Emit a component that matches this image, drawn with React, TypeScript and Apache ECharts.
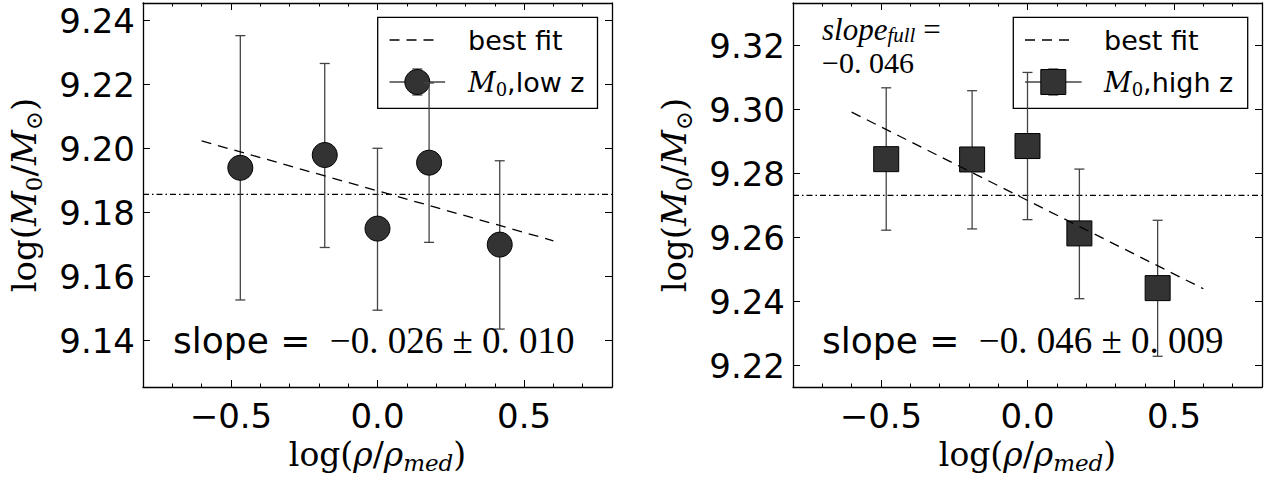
import React, { useEffect, useRef } from "react";
import * as echarts from "echarts";

// ---- data ----
const lowZX = [-0.468, -0.18, 0.0, 0.176, 0.417];
const lowZY = [9.194, 9.198, 9.175, 9.1956, 9.170];
const lowZErrLow = [9.1527, 9.1691, 9.1495, 9.1707, 9.1436];
const lowZErrHigh = [9.2353, 9.2266, 9.2001, 9.2205, 9.1962];
const lowFitX = [-0.6, 0.6];
const lowFitY = [9.2024, 9.1712];
const lowRef = 9.1857;
const lowYRange = [9.1255, 9.2455];
const lowYTicks = [9.14, 9.16, 9.18, 9.2, 9.22, 9.24];

const highZX = [-0.482, -0.189, 0.0, 0.177, 0.444];
const highZY = [9.2845, 9.2844, 9.2886, 9.2613, 9.2442];
const highZErrLow = [9.2623, 9.2627, 9.2656, 9.2409, 9.2229];
const highZErrHigh = [9.3068, 9.3059, 9.3116, 9.2814, 9.2654];
const highFitX = [-0.6, 0.6];
const highFitY = [9.2992, 9.244];
const highRef = 9.2732;
const highYRange = [9.2133, 9.3333];
const highYTicks = [9.22, 9.24, 9.26, 9.28, 9.3, 9.32];

const xRange = [-0.8, 0.8];
const xMajorTicks = [-0.5, 0.0, 0.5];

const lowSlopeText = "−0. 026 ± 0. 010";
const highSlopeText = "−0. 046 ± 0. 009";
const highSlopeFull = "−0. 046";

const SANS = "DejaVu Sans";
const SERIF = "DejaVu Serif";

const fmtX = (v: number) => {
  if (Math.abs(v) < 1e-9) return "0.0";
  return v < 0 ? "−" + Math.abs(v).toFixed(1) : v.toFixed(1);
};

function xAxesFor(gridIndex: number) {
  const common = {
    type: "value",
    gridIndex,
    min: xRange[0],
    max: xRange[1],
    splitLine: { show: false },
  };
  const major = (position: string, withLabel: boolean) => ({
    ...common,
    position,
    axisLine: { show: true, onZero: false, lineStyle: { color: "#000", width: 1.3 } },
    axisTick: { show: true, inside: true, length: 7, customValues: xMajorTicks, lineStyle: { color: "#000", width: 1 } },
    axisLabel: withLabel
      ? { show: true, customValues: xMajorTicks, formatter: fmtX, fontSize: 34, fontFamily: SANS, color: "#000", margin: 12 }
      : { show: false },
    ...(withLabel
      ? {
          name: "{a|log(}{i|ρ}{a|/}{i|ρ}{s|med}{a|)}",
          nameLocation: "middle",
          nameGap: 44,
          nameTextStyle: {
            rich: {
              a: { fontFamily: SERIF, fontSize: 33, color: "#000", lineHeight: 40 },
              i: { fontFamily: SERIF, fontStyle: "italic", fontSize: 33, color: "#000", lineHeight: 40 },
              s: { fontFamily: SERIF, fontStyle: "italic", fontSize: 23, color: "#000", lineHeight: 16, verticalAlign: "bottom" },
            },
          },
        }
      : {}),
  });
  const minor = (position: string) => ({
    ...common,
    position,
    interval: 0.1,
    axisLine: { show: false, onZero: false },
    axisTick: { show: true, inside: true, length: 3.5, lineStyle: { color: "#000", width: 1 } },
    axisLabel: { show: false },
  });
  return [major("bottom", true), minor("bottom"), major("top", false), minor("top")];
}

function yAxesFor(gridIndex: number, range: number[], ticks: number[]) {
  const common = {
    type: "value",
    gridIndex,
    min: range[0],
    max: range[1],
    splitLine: { show: false },
    axisLine: { show: true, onZero: false, lineStyle: { color: "#000", width: 1.3 } },
    axisTick: { show: true, inside: true, length: 7, customValues: ticks, lineStyle: { color: "#000", width: 1 } },
  };
  return [
    {
      ...common,
      position: "left",
      axisLabel: {
        show: true,
        customValues: ticks,
        formatter: (v: number) => v.toFixed(2),
        fontSize: 34,
        fontFamily: SANS,
        color: "#000",
        margin: 8,
      },
      name: "{a|log(}{i|M}{s|0}{a|/}{i|M}{s|⊙}{a|)}",
      nameLocation: "middle",
      nameGap: 98,
      nameTextStyle: {
        rich: {
          a: { fontFamily: SERIF, fontSize: 34, color: "#000", lineHeight: 42 },
          i: { fontFamily: SERIF, fontStyle: "italic", fontSize: 34, color: "#000", lineHeight: 42 },
          s: { fontFamily: SERIF, fontSize: 23, color: "#000", lineHeight: 16, verticalAlign: "bottom" },
        },
      },
    },
    { ...common, position: "right", axisLabel: { show: false } },
  ];
}

function errRender(params: any, api: any) {
  const x = api.value(0);
  const lo = api.coord([x, api.value(1)]);
  const hi = api.coord([x, api.value(2)]);
  const cap = 5;
  const st = { stroke: "#444", lineWidth: 1.3 };
  return {
    type: "group",
    children: [
      { type: "line", shape: { x1: lo[0], y1: lo[1], x2: hi[0], y2: hi[1] }, style: st },
      { type: "line", shape: { x1: lo[0] - cap, y1: lo[1], x2: lo[0] + cap, y2: lo[1] }, style: st },
      { type: "line", shape: { x1: hi[0] - cap, y1: hi[1], x2: hi[0] + cap, y2: hi[1] }, style: st },
    ],
  };
}

function seriesFor(
  xi: number,
  yi: number,
  X: number[],
  Y: number[],
  lo: number[],
  hi: number[],
  fitX: number[],
  fitY: number[],
  ref: number,
  symbol: string,
  name: string
) {
  return [
    {
      type: "line",
      xAxisIndex: xi,
      yAxisIndex: yi,
      data: [[xRange[0], ref], [xRange[1], ref]],
      showSymbol: false,
      symbol: "none",
      lineStyle: { color: "#000", width: 1.2, type: [6, 3, 1.5, 3] },
      z: 1,
      silent: true,
    },
    {
      type: "custom",
      name: name + " err",
      xAxisIndex: xi,
      yAxisIndex: yi,
      renderItem: errRender,
      encode: { x: 0, y: [1, 2] },
      data: X.map((x, i) => [x, lo[i], hi[i]]),
      z: 2,
    },
    {
      type: "scatter",
      name,
      xAxisIndex: xi,
      yAxisIndex: yi,
      symbol,
      symbolSize: 25,
      itemStyle: { color: "#333333", borderColor: "#000", borderWidth: 1, opacity: 1 },
      data: X.map((x, i) => [x, Y[i]]),
      z: 3,
    },
    {
      type: "line",
      name: "best fit",
      xAxisIndex: xi,
      yAxisIndex: yi,
      data: fitX.map((x, i) => [x, fitY[i]]),
      showSymbol: false,
      symbol: "none",
      lineStyle: { color: "#000", width: 1.3, type: [10, 7] },
      z: 4,
    },
  ];
}

function legendGraphic(bx: number, bw: number, lineX1: number, lineX2: number, markerX: number, textX: number, square: boolean, label: string) {
  const by = 17.3;
  const bh = 91;
  const y1 = 40;
  const y2 = 82;
  const st = { stroke: "#444", lineWidth: 1.3 };
  const marker = square
    ? { type: "rect", shape: { x: markerX - 12.5, y: y2 - 12.5, width: 25, height: 25 }, style: { fill: "#333333", stroke: "#000", lineWidth: 1 } }
    : { type: "circle", shape: { cx: markerX, cy: y2, r: 12.5 }, style: { fill: "#333333", stroke: "#000", lineWidth: 1 } };
  return {
    type: "group",
    z: 100,
    children: [
      { type: "rect", shape: { x: bx, y: by, width: bw, height: bh }, style: { fill: "#fff", stroke: "#000", lineWidth: 1.3 } },
      { type: "line", shape: { x1: lineX1, y1, x2: lineX2, y2: y1 }, style: { stroke: "#000", lineWidth: 1.3, lineDash: [10, 7] } },
      { type: "text", x: textX, y: y1, style: { text: "best fit", fill: "#000", font: `27px "${SANS}"`, verticalAlign: "middle", align: "left" } },
      { type: "line", shape: { x1: lineX1, y1: y2, x2: lineX1 + 2 * (markerX - lineX1), y2 }, style: st },
      { type: "line", shape: { x1: markerX, y1: y2 - 13, x2: markerX, y2: y2 + 13 }, style: st },
      { type: "line", shape: { x1: markerX - 5, y1: y2 - 13, x2: markerX + 5, y2: y2 - 13 }, style: st },
      { type: "line", shape: { x1: markerX - 5, y1: y2 + 13, x2: markerX + 5, y2: y2 + 13 }, style: st },
      marker,
      {
        type: "text",
        x: textX,
        y: y2,
        style: {
          text: "{m|M}{s|0}{t|," + label + "}",
          verticalAlign: "middle",
          align: "left",
          rich: {
            m: { fontFamily: SERIF, fontStyle: "italic", fontSize: 27, fill: "#000", lineHeight: 32 },
            s: { fontFamily: SERIF, fontSize: 18, fill: "#000", lineHeight: 14, verticalAlign: "bottom" },
            t: { fontFamily: SANS, fontSize: 27, fill: "#000", lineHeight: 32 },
          },
        },
      },
    ],
  };
}

function slopeGraphic(x: number, txt: string) {
  return {
    type: "text",
    z: 90,
    x,
    y: 340,
    style: {
      text: "{a|slope = }{b|" + txt + "}",
      verticalAlign: "middle",
      align: "left",
      rich: {
        a: { fontFamily: SANS, fontSize: 36, fill: "#000", lineHeight: 44 },
        b: { fontFamily: "Liberation Serif", fontSize: 37, fill: "#000", lineHeight: 44, padding: [0, 0, 0, 8] },
      },
    },
  };
}

export default function App() {
  const ref = useRef<HTMLDivElement>(null);
  useEffect(() => {
    document.body.style.margin = "0";
    if (!ref.current) return;
    const chart = echarts.init(ref.current, undefined, { renderer: "svg" });
    const option: any = {
      animation: false,
      backgroundColor: "#fff",
      grid: [
        { left: 143, top: 3, width: 469, height: 384, containLabel: false },
        { left: 793, top: 3, width: 469, height: 384, containLabel: false },
      ],
      xAxis: [...xAxesFor(0), ...xAxesFor(1)],
      yAxis: [...yAxesFor(0, lowYRange, lowYTicks), ...yAxesFor(1, highYRange, highYTicks)],
      series: [
        ...seriesFor(0, 0, lowZX, lowZY, lowZErrLow, lowZErrHigh, lowFitX, lowFitY, lowRef, "circle", "M0,low z"),
        ...seriesFor(4, 2, highZX, highZY, highZErrLow, highZErrHigh, highFitX, highFitY, highRef, "rect", "M0,high z"),
      ],
      graphic: [
        legendGraphic(377.7, 219.8, 389.5, 436, 417.3, 468, false, "low z"),
        legendGraphic(1013.3, 234.4, 1025, 1071.7, 1053.3, 1104, true, "high z"),
        slopeGraphic(173, lowSlopeText),
        slopeGraphic(822, highSlopeText),
        {
          type: "text",
          z: 90,
          x: 822,
          y: 29,
          style: {
            text: "{i|slope}{s|full}{e| =}",
            verticalAlign: "middle",
            align: "left",
            rich: {
              i: { fontFamily: "Liberation Serif", fontStyle: "italic", fontSize: 31, fill: "#000", lineHeight: 32 },
              s: { fontFamily: "Liberation Serif", fontStyle: "italic", fontSize: 21, fill: "#000", lineHeight: 12, verticalAlign: "bottom" },
              e: { fontFamily: "Liberation Serif", fontSize: 31, fill: "#000", lineHeight: 32 },
            },
          },
        },
        {
          type: "text",
          z: 90,
          x: 822,
          y: 62,
          style: { text: highSlopeFull, fill: "#000", font: '30px "Liberation Serif"', verticalAlign: "middle", align: "left" },
        },
      ],
    };
    chart.setOption(option);
    return () => chart.dispose();
  }, []);
  return <div ref={ref} style={{ width: 1269, height: 485 }} />;
}
